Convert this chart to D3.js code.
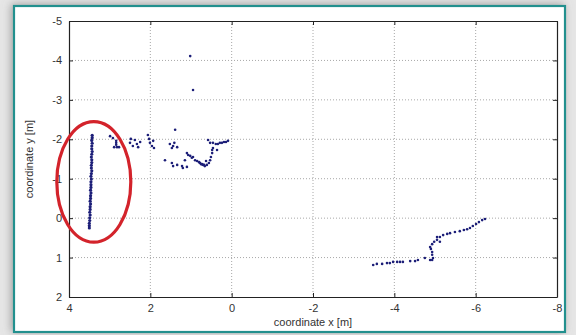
<!DOCTYPE html>
<html>
<head>
<meta charset="utf-8">
<script src="https://cdn.jsdelivr.net/npm/d3@7"></script>
<style>
  html, body { margin: 0; padding: 0; background: #e4e4e4; }
  svg { display: block; }
  text { font-family: "Liberation Sans", Arial, sans-serif; }
</style>
</head>
<body>
<svg id="chart" width="576" height="335"></svg>
<script>
// Axis ticks
const xTicks = [4, 2, 0, -2, -4, -6, -8];
const yTicks = [-5, -4, -3, -2, -1, 0, 1, 2];

// Wall segment on the left (x, y in metres)
const wallX = [3.43, 3.43, 3.44, 3.43, 3.44, 3.44, 3.43, 3.44, 3.45, 3.44, 3.44, 3.45, 3.45, 3.44, 3.45, 3.46, 3.45, 3.46,
               3.46, 3.46, 3.47, 3.46, 3.47, 3.47, 3.48, 3.47, 3.48, 3.48, 3.49, 3.48, 3.49, 3.49, 3.50, 3.50, 3.50];
const wallY = [-2.10, -2.04, -1.97, -1.90, -1.83, -1.76, -1.69, -1.62, -1.55, -1.48, -1.41, -1.34, -1.27, -1.20, -1.13, -1.06, -0.99, -0.92,
               -0.85, -0.78, -0.71, -0.64, -0.57, -0.50, -0.43, -0.36, -0.29, -0.22, -0.15, -0.08, -0.01, 0.06, 0.13, 0.19, 0.25];

// Scattered returns around y = -2
const clutterX = [2.99, 2.92, 2.84, 2.84, 2.84, 2.82, 2.89, 2.77,
                  2.50, 2.48, 2.38, 2.33, 2.25, 2.30, 2.43,
                  2.06, 2.01, 1.96, 1.93, 2.03, 1.91,
                  1.39, 1.52, 1.44, 1.34, 1.47, 1.41, 1.64, 1.47, 1.44, 1.34,
                  1.22, 1.15, 1.10, 1.07, 1.02, 0.98, 0.95, 0.90, 0.85, 0.80, 0.78, 0.73, 0.70, 0.66, 0.61, 0.56, 0.53,
                  0.51, 0.48, 0.48, 0.46, 0.58, 0.53, 0.46, 0.39, 0.34, 0.29, 0.24, 0.19, 0.14, 0.09,
                  1.20, 1.10, 0.75, 0.68, 0.63, 0.36,
                  1.02, 0.95];
const clutterY = [-2.08, -2.03, -1.96, -1.91, -1.86, -1.80, -1.80, -1.80,
                  -1.91, -2.01, -1.98, -1.88, -1.93, -1.80, -1.83,
                  -2.11, -1.91, -1.83, -1.96, -2.01, -1.78,
                  -2.24, -1.88, -1.83, -1.80, -1.78, -1.91, -1.47, -1.40, -1.32, -1.35,
                  -1.32, -1.47, -1.65, -1.60, -1.58, -1.53, -1.55, -1.47, -1.45, -1.42, -1.40, -1.37, -1.35, -1.32, -1.35, -1.40, -1.47,
                  -1.55, -1.65, -1.73, -1.78, -1.98, -1.91, -1.91, -1.88, -1.88, -1.91, -1.91, -1.93, -1.93, -1.96,
                  -1.27, -1.30, -1.37, -1.35, -1.45, -1.73,
                  -4.11, -3.25];

// Track on the right
const trackX = [-3.48, -3.57, -3.70, -3.82, -3.89, -3.97, -4.07, -4.14, -4.21, -4.39, -4.51, -4.58, -4.75, -4.88, -4.93, -4.95,
                -4.93, -4.93, -4.90, -4.88, -4.93, -4.98, -5.05, -5.12, -5.20, -5.30, -5.37, -5.49, -5.61, -5.71, -5.79,
                -5.86, -5.93, -6.01, -6.08, -6.16, -6.23, -5.12, -5.05];
const trackY = [1.19, 1.16, 1.16, 1.14, 1.14, 1.11, 1.11, 1.11, 1.11, 1.09, 1.09, 1.06, 1.01, 1.06, 1.06, 1.01,
                0.93, 0.86, 0.78, 0.73, 0.66, 0.60, 0.55, 0.48, 0.43, 0.40, 0.38, 0.35, 0.33, 0.30, 0.28,
                0.25, 0.20, 0.15, 0.10, 0.05, 0.02, 0.60, 0.48];

// Highlight ellipse around the wall (metres)
const ringCenter = [3.39, -0.92];
const ringRadius = [0.91, 1.53];

const svg = d3.select("#chart");
const W = 576, H = 335;
const plot = { left: 69, right: 557, top: 21, bottom: 297 };

// Frame with soft shadow
const defs = svg.append("defs");
const sh = defs.append("filter").attr("id", "shadow")
  .attr("x", "-5%").attr("y", "-5%").attr("width", "110%").attr("height", "110%");
sh.append("feDropShadow").attr("dx", -2).attr("dy", -1).attr("stdDeviation", 4)
  .attr("flood-color", "#777").attr("flood-opacity", 0.6);

svg.append("rect").attr("x", 0).attr("y", 0).attr("width", W).attr("height", H).attr("fill", "#e6e6e6");
svg.append("rect").attr("x", 14).attr("y", 6).attr("width", 551).attr("height", 326)
  .attr("fill", "#fff").attr("stroke", "#23908e").attr("stroke-width", 2.2)
  .attr("filter", "url(#shadow)");

const x = d3.scaleLinear().domain([4, -8]).range([plot.left, plot.right]);
const y = d3.scaleLinear().domain([-5, 2]).range([plot.top, plot.bottom]);

// Grid
const grid = svg.append("g").attr("stroke", "#a8a8a8").attr("stroke-width", 1)
  .attr("stroke-dasharray", "1,2");
grid.selectAll(".gx").data(xTicks.slice(1, -1)).join("line")
  .attr("x1", d => x(d)).attr("x2", d => x(d)).attr("y1", plot.top).attr("y2", plot.bottom);
grid.selectAll(".gy").data(yTicks.slice(1, -1)).join("line")
  .attr("y1", d => y(d)).attr("y2", d => y(d)).attr("x1", plot.left).attr("x2", plot.right);

// Axes (ticks inward on all four sides)
const fmt = d => String(d).replace("\u2212", "-");
const axB = svg.append("g").attr("transform", `translate(0,${plot.bottom})`)
  .call(d3.axisBottom(x).tickValues(xTicks).tickSizeInner(-4).tickSizeOuter(0).tickPadding(7).tickFormat(fmt));
const axT = svg.append("g").attr("transform", `translate(0,${plot.top})`)
  .call(d3.axisTop(x).tickValues(xTicks).tickSizeInner(-4).tickSizeOuter(0).tickFormat(""));
const axL = svg.append("g").attr("transform", `translate(${plot.left},0)`)
  .call(d3.axisLeft(y).tickValues(yTicks).tickSizeInner(-4).tickSizeOuter(0).tickPadding(7).tickFormat(fmt));
const axR = svg.append("g").attr("transform", `translate(${plot.right},0)`)
  .call(d3.axisRight(y).tickValues(yTicks).tickSizeInner(-4).tickSizeOuter(0).tickFormat(""));
[axB, axT, axL, axR].forEach(a => {
  a.selectAll(".domain").attr("stroke", "#222").attr("stroke-width", 1.2);
  a.selectAll(".tick line").attr("stroke", "#222");
  a.selectAll("text").attr("fill", "#333").style("font-size", "11px")
    .style("font-family", "'Liberation Sans', Arial, sans-serif");
});

// Axis titles
svg.append("text").attr("x", (plot.left + plot.right) / 2).attr("y", 326)
  .attr("text-anchor", "middle").attr("fill", "#333").style("font-size", "11px")
  .text("coordinate x [m]");
svg.append("text").attr("transform", `translate(33,${(plot.top + plot.bottom) / 2}) rotate(-90)`)
  .attr("text-anchor", "middle").attr("fill", "#333").style("font-size", "11px")
  .text("coordinate y [m]");

// Measured points
const dot = (xs, ys, r) => xs.map((v, i) => ({ x: v, y: ys[i], r }));
const pts = [].concat(dot(wallX, wallY, 1.6), dot(clutterX, clutterY, 1.3), dot(trackX, trackY, 1.3));
svg.append("g").selectAll("circle").data(pts).join("circle")
  .attr("cx", d => x(d.x)).attr("cy", d => y(d.y)).attr("r", d => d.r)
  .attr("fill", "#1c1e78");

// Highlight ring
svg.append("ellipse")
  .attr("cx", x(ringCenter[0])).attr("cy", y(ringCenter[1]))
  .attr("rx", Math.abs(x(ringCenter[0] + ringRadius[0]) - x(ringCenter[0])))
  .attr("ry", Math.abs(y(ringCenter[1] + ringRadius[1]) - y(ringCenter[1])))
  .attr("fill", "none").attr("stroke", "#d3232b").attr("stroke-width", 3.2);
</script>
</body>
</html>
